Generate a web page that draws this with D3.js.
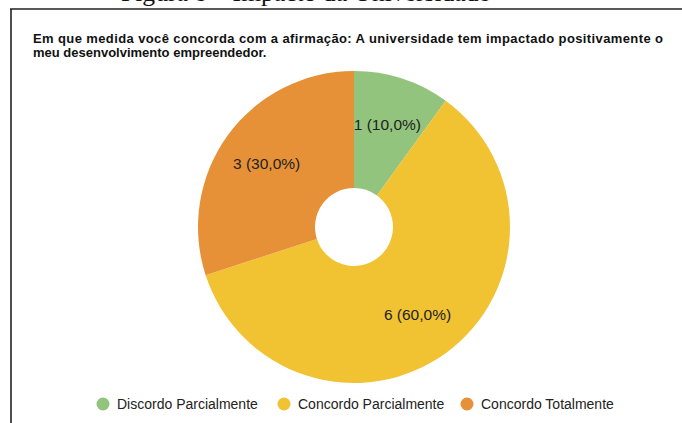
<!DOCTYPE html>
<html><head><meta charset="utf-8">
<script src="https://cdn.jsdelivr.net/npm/d3@7"></script>
<style>html,body{margin:0;padding:0;background:#fff;overflow:hidden}</style>
</head><body>
<svg id="c" width="682" height="423"></svg>
<script>
const categories = ["Discordo Parcialmente", "Concordo Parcialmente", "Concordo Totalmente"];
const values = [1, 6, 3];
const colors = ["#93c47d", "#f1c232", "#e69138"];
const caption = "Figura 8 – Impacto da Universidade";
const titleLines = ["Em que medida você concorda com a afirmação: A universidade tem impactado positivamente o", "meu desenvolvimento empreendedor."];

const svg = d3.select("#c");
const total = d3.sum(values);

svg.append("text").attr("x", 121).attr("y", 1)
  .attr("font-family", "Liberation Serif, Times New Roman, serif").attr("font-size", 25.6)
  .attr("fill", "#111").text(caption);

svg.append("line").attr("x1", 10).attr("x2", 682).attr("y1", 9).attr("y2", 9)
  .attr("stroke", "#222").attr("stroke-width", 1.6);
svg.append("line").attr("x1", 11).attr("x2", 11).attr("y1", 9).attr("y2", 423)
  .attr("stroke", "#222").attr("stroke-width", 1.6);

svg.selectAll("text.title").data(titleLines).enter().append("text")
  .attr("class", "title").attr("x", 33).attr("y", (d, i) => 43 + i * 14)
  .attr("font-family", "Liberation Sans, Arial, sans-serif").attr("font-size", 13)
  .attr("font-weight", "bold").attr("fill", "#111")
  .attr("textLength", (d, i) => i === 0 ? 630 : null)
  .text(d => d);

const cx = 354, cy = 227, R = 156, r0 = 39;
const pie = d3.pie().sort(null).value(d => d)(values);
const arc = d3.arc().innerRadius(r0).outerRadius(R);
const labelArc = d3.arc().innerRadius(108).outerRadius(108);
const g = svg.append("g").attr("transform", `translate(${cx},${cy})`);
g.selectAll("path").data(pie).enter().append("path")
  .attr("d", arc).attr("fill", (d, i) => colors[i]);
const fmt = v => (v / total * 100).toFixed(1).replace(".", ",");
g.selectAll("text").data(pie).enter().append("text")
  .attr("transform", d => `translate(${labelArc.centroid(d)})`)
  .attr("text-anchor", "middle").attr("dy", "0.35em")
  .attr("font-family", "Liberation Sans, Arial, sans-serif").attr("font-size", 15.5)
  .attr("fill", "#222")
  .text(d => `${d.data} (${fmt(d.data)}%)`);

const legendX = [103, 284, 467];
const lg = svg.append("g");
categories.forEach((c, i) => {
  lg.append("circle").attr("cx", legendX[i]).attr("cy", 404).attr("r", 6.5).attr("fill", colors[i]);
  lg.append("text").attr("x", legendX[i] + 14).attr("y", 404).attr("dy", "0.35em")
    .attr("font-family", "Liberation Sans, Arial, sans-serif").attr("font-size", 14)
    .attr("fill", "#222").text(c);
});
</script>
</body></html>
